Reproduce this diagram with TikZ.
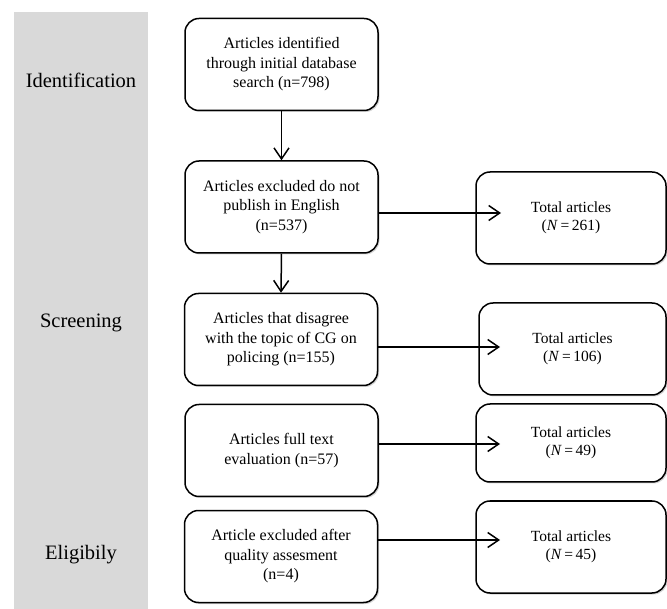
\documentclass[tikz,border=0pt]{standalone}
\usepackage{fontspec}
\setmainfont{Liberation Serif}
\usetikzlibrary{arrows.meta,shadows}

\begin{document}
\begin{tikzpicture}[x=1pt,y=-1pt,
	stagebox/.style={draw, line width=1.5pt, rounded corners=14pt, fill=white,
		drop shadow={shadow xshift=1.5pt, shadow yshift=-1.5pt, opacity=0.35},
		minimum width=193pt, minimum height=92pt, align=center,
		font=\fontsize{16}{19.5}\selectfont},
	totalbox/.style={stagebox, minimum width=190pt, font=\fontsize{15.5}{18}\selectfont},
	phase/.style={font=\fontsize{20.5}{25}\selectfont},
	arr/.style={line width=1.5pt, -{Straight Barb[length=11pt,width=15pt]}}]
	\useasboundingbox (0,0) rectangle (667,609);
	
	% Phases
	\fill[gray!30] (14,12) rectangle (148,609);
	\node[phase] (ident) at (81,80) {Identification};
	\node[phase] (screen) at (81,323) {Screening};
	\node[phase] (elig) at (81,555) {Eligibily};
	
	% Stages
	\node[stagebox] (b1) at (281.5,64.5) {Articles identified\\through initial database\\search (n=798)};
	\node[stagebox] (b2) at (281.5,207) {Articles excluded do not\\publish in English\\(n=537)};
	\node[stagebox] (b3) at (281,339.5) {Articles that disagree\\with the topic of CG on\\policing (n=155)};
	\node[stagebox] (b4) at (281.5,450.5) {Articles full text\\evaluation (n=57)};
	\node[stagebox] (b5) at (281,556.5) {Article excluded after\\quality assesment\\(n=4)};
	
	% Totals
	\node[totalbox] (r1) at (571,218) {Total articles\\(\textit{N}\,=\,261)};
	\node[totalbox, minimum width=187pt] (r2) at (572.5,349) {Total articles\\(\textit{N}\,=\,106)};
	\node[totalbox, minimum height=78pt] (r3) at (571,443) {Total articles\\(\textit{N}\,=\,49)};
	\node[totalbox] (r4) at (571,547) {Total articles\\(\textit{N}\,=\,45)};
	
	% Arrows
	\coordinate (t1) at (501,213);
	\coordinate (t2) at (500,347);
	\coordinate (t3) at (500,444);
	\coordinate (t4) at (500,540);
	\draw[arr] (b1.south) -- (b2.north);
	\draw[arr] (b2.south) -- (b3.north);
	\draw[arr] (b2.east |- t1) -- (t1);
	\draw[arr] (b3.east |- t2) -- (t2);
	\draw[arr] (b4.east |- t3) -- (t3);
	\draw[arr] (b5.east |- t4) -- (t4);
\end{tikzpicture}
\end{document}
